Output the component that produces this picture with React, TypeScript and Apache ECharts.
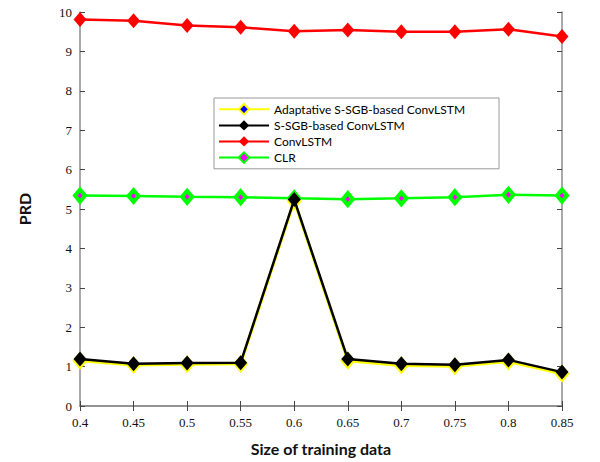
import React, { useEffect, useRef } from "react";
import * as echarts from "echarts";

const categories = ["0.4", "0.45", "0.5", "0.55", "0.6", "0.65", "0.7", "0.75", "0.8", "0.85"];
const adaptiveValues = [1.15, 1.04, 1.06, 1.07, 5.2, 1.15, 1.03, 1.01, 1.13, 0.82];
const ssgbValues = [1.19, 1.07, 1.09, 1.1, 5.24, 1.19, 1.07, 1.05, 1.17, 0.86];
const convLstmValues = [9.81, 9.78, 9.66, 9.61, 9.51, 9.54, 9.5, 9.5, 9.56, 9.38];
const clrValues = [5.34, 5.33, 5.31, 5.3, 5.27, 5.25, 5.27, 5.3, 5.36, 5.34];
const yTicks = [0, 1, 2, 3, 4, 5, 6, 7, 8, 9, 10];

const serif = "'Liberation Serif', 'DejaVu Serif', serif";
const sans = "Lato, 'Open Sans', sans-serif";

export default function App() {
  const ref = useRef<HTMLDivElement>(null);
  useEffect(() => {
    if (!ref.current) return;
    const chart = echarts.init(ref.current, undefined, { renderer: "svg" });
    const axisLine = { show: true, lineStyle: { color: "#8c8c8c", width: 1.5 } };
    const tick = { show: true, inside: true, length: 5, lineStyle: { color: "#444", width: 1 } };
    chart.setOption({
      animation: false,
      backgroundColor: "#fff",
      grid: { left: 80, right: 38, top: 12, bottom: 56, containLabel: false },
      legend: {
        orient: "vertical",
        left: 214,
        top: 98,
        data: ["Adaptative S-SGB-based ConvLSTM", "S-SGB-based ConvLSTM", "ConvLSTM", "CLR"],
        backgroundColor: "#fff",
        borderColor: "#999",
        borderWidth: 1,
        padding: [5, 34, 5, 4],
        itemWidth: 50,
        itemHeight: 13,
        itemGap: 4,
        textStyle: { fontFamily: sans, fontSize: 12, color: "#000" },
      },
      xAxis: [
        {
          type: "category",
          data: categories,
          boundaryGap: false,
          axisLine,
          axisTick: { ...tick, alignWithLabel: true },
          axisLabel: { fontFamily: serif, fontSize: 13, color: "#111", margin: 10 },
          name: "Size of training data",
          nameLocation: "middle",
          nameGap: 34,
          nameTextStyle: { fontFamily: sans, fontSize: 16, fontWeight: "bold", color: "#111" },
          splitLine: { show: false },
        },
        {
          type: "category",
          data: categories,
          boundaryGap: false,
          position: "top",
          axisLine,
          axisTick: { ...tick, alignWithLabel: true },
          axisLabel: { show: false },
          splitLine: { show: false },
        },
      ],
      yAxis: [
        {
          type: "value",
          min: yTicks[0],
          max: yTicks[yTicks.length - 1],
          interval: 1,
          axisLine,
          axisTick: tick,
          axisLabel: { fontFamily: serif, fontSize: 13, color: "#111", margin: 8 },
          name: "PRD",
          nameLocation: "middle",
          nameGap: 48,
          nameRotate: 90,
          nameTextStyle: { fontFamily: sans, fontSize: 16, fontWeight: "bold", color: "#111" },
          splitLine: { show: false },
        },
        {
          type: "value",
          min: yTicks[0],
          max: yTicks[yTicks.length - 1],
          interval: 1,
          position: "right",
          axisLine,
          axisTick: tick,
          axisLabel: { show: false },
          splitLine: { show: false },
        },
      ],
      series: [
        {
          name: "CLR",
          type: "line",
          data: clrValues,
          symbol: "diamond",
          symbolSize: [10, 12],
          lineStyle: { color: "#00ff00", width: 2.5 },
          itemStyle: { color: "#ff00ff", borderColor: "#00ff00", borderWidth: 4 },
          z: 2,
        },
        {
          name: "Adaptative S-SGB-based ConvLSTM",
          type: "line",
          data: adaptiveValues,
          symbol: "diamond",
          symbolSize: [10, 12],
          lineStyle: { color: "#ffff00", width: 3 },
          itemStyle: { color: "#0000ff", borderColor: "#ffff00", borderWidth: 4 },
          z: 3,
        },
        {
          name: "S-SGB-based ConvLSTM",
          type: "line",
          data: ssgbValues,
          symbol: "diamond",
          symbolSize: [13, 15],
          lineStyle: { color: "#000", width: 2.5 },
          itemStyle: { color: "#000" },
          z: 4,
        },
        {
          name: "ConvLSTM",
          type: "line",
          data: convLstmValues,
          symbol: "diamond",
          symbolSize: [13, 15],
          lineStyle: { color: "#ff0000", width: 2.5 },
          itemStyle: { color: "#ff0000" },
          z: 5,
        },
      ],
    });
    return () => chart.dispose();
  }, []);
  return <div ref={ref} style={{ width: 600, height: 462, position: "absolute", left: 0, top: 0 }} />;
}
